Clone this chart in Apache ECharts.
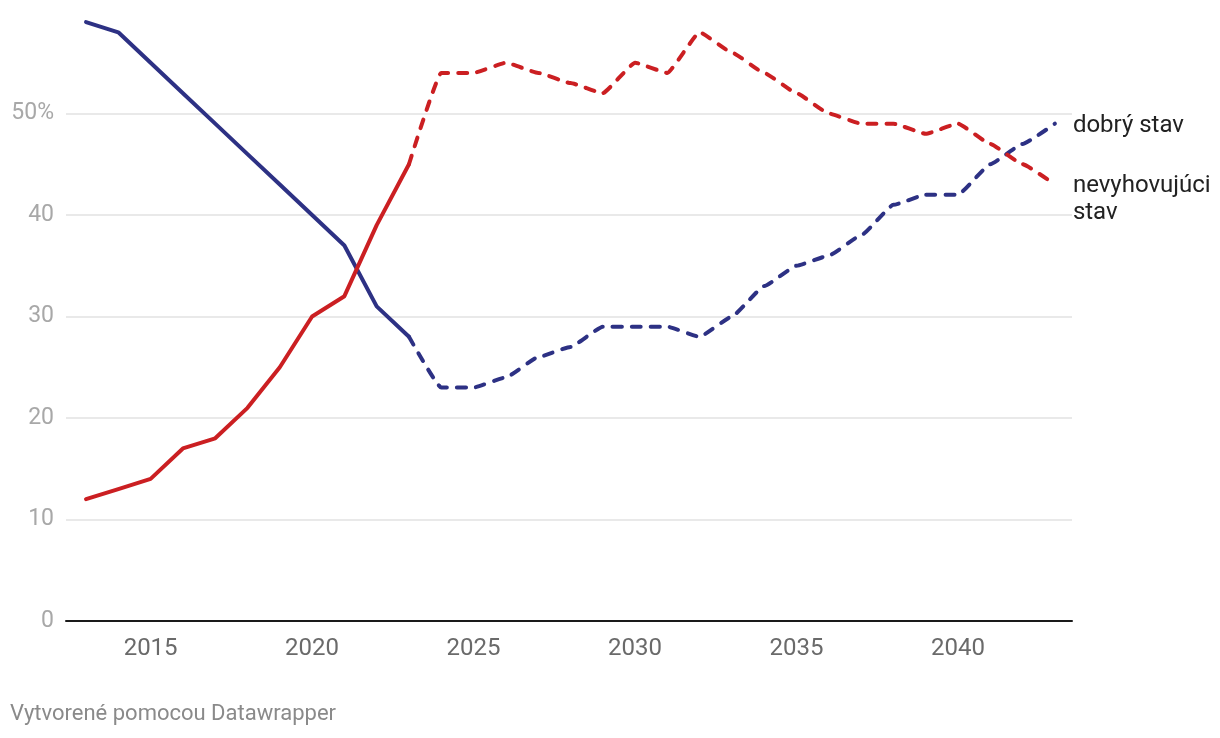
<!DOCTYPE html>
<html>
<head>
<meta charset="utf-8">
<script src="https://cdn.jsdelivr.net/npm/echarts@6/dist/echarts.min.js"></script>
<style>
html,body{margin:0;padding:0;background:#fff;}
#chart{width:1220px;height:738px;}
</style>
</head>
<body>
<div id="chart"></div>
<script>
const histYears = [2013,2014,2015,2016,2017,2018,2019,2020,2021,2022,2023];
const projYears = [2023,2024,2025,2026,2027,2028,2029,2030,2031,2032,2033,2034,2035,2036,2037,2038,2039,2040,2041,2042,2043];
const goodHist = [59,58,55,52,49,46,43,40,37,31,28];
const goodProj = [28,23,23,24,26,27,29,29,29,28,30,33,35,36,38,41,42,42,45,47,49];
const poorHist = [12,13,14,17,18,21,25,30,32,39,45];
const poorProj = [45,54,54,55,54,53,52,55,54,58,56,54,52,50,49,49,48,49,47,45,43];
const xTicks = [2015,2020,2025,2030,2035,2040];
const yTicks = [0,10,20,30,40,50];
const seriesNames = ['dobrý stav','nevyhovujúci\nstav'];
const footer = 'Vytvorené pomocou Datawrapper';

const BLUE = '#2d3184';
const RED = '#cb1f22';
const zip = (xs, ys) => xs.map((x, i) => [x, ys[i]]);

const chart = echarts.init(document.getElementById('chart'));
const font = 'Roboto';

function solid(name, color, data) {
  return {
    name, type: 'line', data, showSymbol: false, symbol: 'none',
    lineStyle: {color, width: 4, cap: 'round', join: 'round'},
    z: 3, animation: false
  };
}
function dashed(name, color, data, label, offY) {
  return {
    name, type: 'line', data, showSymbol: false, symbol: 'none',
    smooth: 0.12, smoothMonotone: 'x',
    lineStyle: {color, width: 4, type: [9, 10], cap: 'round', join: 'round'},
    endLabel: {
      show: true, formatter: label, color: '#222', fontFamily: font,
      fontSize: 24, lineHeight: 27, align: 'left', verticalAlign: 'middle',
      offset: [10, offY]
    },
    z: 3, animation: false
  };
}

chart.setOption({
  animation: false,
  backgroundColor: '#fff',
  textStyle: {fontFamily: font},
  title: {
    text: footer, left: 10, top: 703, padding: 0,
    textStyle: {fontSize: 22, fontWeight: 'normal', color: '#8a8a8a', fontFamily: font}
  },
  grid: {left: 66, right: 148, top: 12, bottom: 117},
  xAxis: {
    type: 'value', min: 2012.38, max: 2043.53,
    axisLine: {show: true, lineStyle: {color: '#1a1a1a', width: 2}},
    axisTick: {show: false},
    splitLine: {show: false},
    axisLabel: {
      customValues: xTicks, color: '#6a6a6a', fontSize: 24, fontFamily: font, margin: 16,
      formatter: v => String(v)
    }
  },
  yAxis: {
    type: 'value', min: 0, max: 60, interval: 10,
    axisLine: {show: false}, axisTick: {show: false},
    splitLine: {show: true, showMinLine: false, showMaxLine: false, lineStyle: {color: '#e2e2e2', width: 1.5}},
    axisLabel: {
      customValues: yTicks, color: '#a8a8a8', fontSize: 23, fontFamily: font, margin: 12,
      formatter: v => v === 50 ? '50%' : String(v)
    }
  },
  series: [
    solid('good', BLUE, zip(histYears, goodHist)),
    dashed('goodP', BLUE, zip(projYears, goodProj), seriesNames[0], 2),
    solid('poor', RED, zip(histYears, poorHist)),
    dashed('poorP', RED, zip(projYears, poorProj), seriesNames[1], 15)
  ]
});
</script>
</body>
</html>
